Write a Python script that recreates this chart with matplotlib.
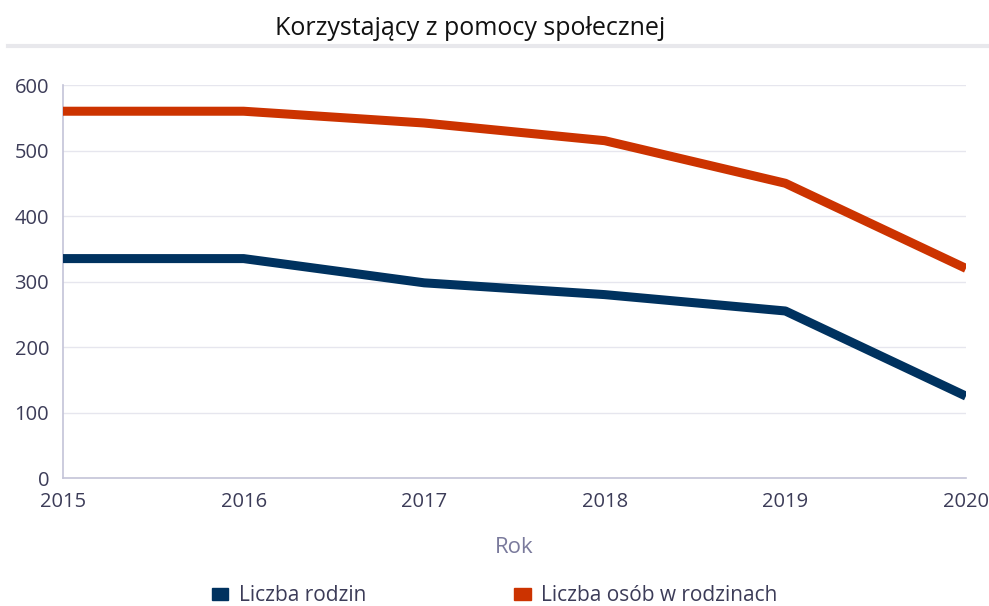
import matplotlib.pyplot as plt
from matplotlib.lines import Line2D
from matplotlib.patches import Patch

plt.rcParams['font.family'] = ['Open Sans', 'DejaVu Sans']

years = [2015, 2016, 2017, 2018, 2019, 2020]
rodziny = [335, 335, 298, 280, 255, 125]
osoby = [560, 560, 542, 515, 450, 320]

color_r = '#00325f'
color_o = '#cc3300'
tick_color = '#3c3c58'

fig = plt.figure(figsize=(9.89, 6.06), dpi=100)
ax = fig.add_axes([0.0637, 0.2112, 0.913, 0.6485])

ax.plot(years, rodziny, color=color_r, linewidth=6.5, solid_capstyle='butt', zorder=3)
ax.plot(years, osoby, color=color_o, linewidth=6.5, solid_capstyle='butt', zorder=3)

ax.set_xlim(2015, 2020)
ax.set_ylim(0, 600)
ax.set_xticks(years)
ax.set_yticks(range(0, 601, 100))
ax.grid(axis='y', color='#e6e6ee', linewidth=1)
ax.set_axisbelow(True)
for s in ['top', 'right']:
    ax.spines[s].set_visible(False)
for s in ['left', 'bottom']:
    ax.spines[s].set_color('#c4c4d8')
    ax.spines[s].set_linewidth(1.2)
ax.tick_params(length=0, labelsize=14.5, colors=tick_color)
ax.tick_params(axis='y', pad=10)
ax.tick_params(axis='x', pad=10)
ax.set_xlabel('Rok', fontsize=16, color='#7a7a9c', labelpad=18)

fig.text(0.475, 0.953, 'Korzystający z pomocy społecznej', ha='center', va='center',
         fontsize=18, color='#111111')
fig.add_artist(Line2D([0.008, 1.0], [0.924, 0.924], color='#e8e8ec', linewidth=3))

handles = [Patch(color=color_r), Patch(color=color_o)]
fig.legend(handles, ['Liczba rodzin', 'Liczba osób w rodzinach'], loc='center',
           bbox_to_anchor=(0.5, 0.017), ncol=2, frameon=False, fontsize=15,
           handlelength=0.8, handleheight=0.55, handletextpad=0.5, columnspacing=7.1,
           labelcolor=tick_color)

fig.savefig('out.png', dpi=100)
